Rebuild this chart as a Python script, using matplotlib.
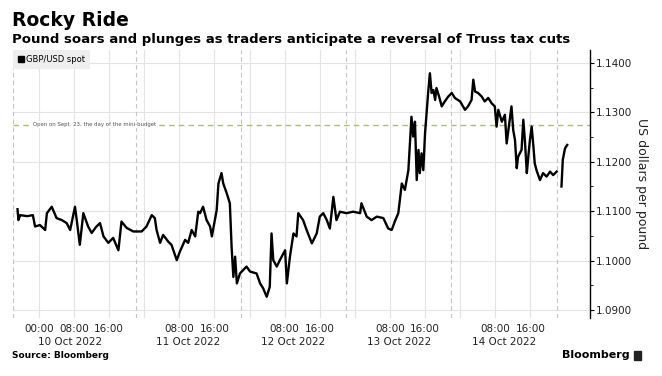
import numpy as np
import matplotlib.pyplot as plt
from matplotlib.lines import Line2D
from matplotlib.patches import Rectangle

# hours since 10 Oct 2022 00:00, GBP/USD spot
hours = [-4.9, -4.7, -4.3, -2.7, -1.4, -0.9, 0.2, 1.4, 1.8, 2.9, 4.0, 5.2, 6.3, 7.1,
         8.2, 8.6, 9.3, 10.1, 11.2, 12.0, 13.0, 13.9, 14.7, 15.8, 16.9, 18.1, 18.8,
         20.0, 21.5, 23.4, 24.5, 25.7, 26.4, 26.8, 27.6, 28.3, 29.5, 30.2, 31.4,
         32.1, 33.3, 34.0, 34.8, 35.6, 36.3, 36.7, 37.4, 38.2, 39.0, 39.4, 40.5,
         40.9, 41.6, 42.0, 42.8, 43.5, 43.9, 44.3, 44.7, 45.1, 45.8, 47.3, 48.1,
         49.6, 50.4, 51.1, 51.9, 52.6, 53.0, 53.4, 54.2, 54.9, 56.1, 56.5, 57.2,
         58.0, 58.7, 59.1, 60.2, 61.0, 62.2, 63.3, 64.0, 64.8, 65.6, 66.3, 67.1,
         67.8, 68.6, 70.1, 71.6, 73.2, 73.5, 74.7, 75.8, 77.0, 78.5, 79.6, 80.4,
         81.1, 81.9, 82.7, 83.4, 84.2, 84.9, 85.3, 85.7, 86.1, 86.5, 86.8, 87.2,
         87.6, 88.0, 88.4, 88.7, 89.1, 89.5, 89.9, 90.3, 90.6, 91.2, 91.8, 92.5,
         93.3, 94.1, 94.8, 96.0, 97.1, 97.8, 98.6, 99.0, 99.4, 100.1, 100.9, 101.6,
         102.4, 103.2, 103.9, 104.3, 104.7, 105.5, 106.2, 106.6, 107.3, 107.7,
         108.1, 108.5, 108.9, 109.2, 110.0, 110.4, 110.8, 111.2, 111.5, 111.9,
         112.3, 112.7, 113.0, 113.4, 114.2, 114.9, 115.7, 116.5, 117.2, 118.0,
         118.5, 119.1, 119.4, 119.9, 120.4]
gbpusd = [1.1104, 1.1082, 1.1092, 1.1090, 1.1092, 1.1069, 1.1072, 1.1062, 1.1096,
          1.1109, 1.1086, 1.1082, 1.1076, 1.1062, 1.1109, 1.1082, 1.1032, 1.1096,
          1.1069, 1.1056, 1.1068, 1.1076, 1.1049, 1.1036, 1.1046, 1.1021, 1.1079,
          1.1066, 1.1059, 1.1059, 1.1069, 1.1092, 1.1086, 1.1062, 1.1036, 1.1052,
          1.1038, 1.1032, 1.1001, 1.1018, 1.1042, 1.1036, 1.1062, 1.1049, 1.1099,
          1.1096, 1.1109, 1.1082, 1.1069, 1.1049, 1.1102, 1.1156, 1.1177, 1.1156,
          1.1136, 1.1116, 1.1028, 1.0967, 1.1008, 1.0954, 1.0974, 1.0988, 1.0978,
          1.0974, 1.0954, 1.0944, 1.0927, 1.0947, 1.1055, 1.1001, 1.0988, 1.1001,
          1.1021, 1.0954, 1.1008, 1.1055, 1.1049, 1.1096, 1.1082, 1.1062, 1.1035,
          1.1055, 1.1089, 1.1096, 1.1082, 1.1065, 1.1129, 1.1082, 1.1099, 1.1096,
          1.1099, 1.1096, 1.1116, 1.1089, 1.1082, 1.1089, 1.1086, 1.1065, 1.1062,
          1.1079, 1.1096, 1.1156, 1.1143, 1.1183, 1.1291, 1.1251, 1.1281, 1.1163,
          1.1224, 1.1177, 1.1217, 1.1183, 1.1258, 1.1305, 1.1339, 1.1379, 1.1339,
          1.1345, 1.1325, 1.1349, 1.1332, 1.1312, 1.1322, 1.1332, 1.1339, 1.1329,
          1.1322, 1.1305, 1.1312, 1.1325, 1.1366, 1.1342, 1.1339, 1.1332, 1.1322,
          1.1329, 1.1318, 1.1312, 1.1271, 1.1305, 1.1281, 1.1295, 1.1237, 1.1285,
          1.1312, 1.1264, 1.1244, 1.1187, 1.1210, 1.1224, 1.1285, 1.1237, 1.1177,
          1.1207, 1.1244, 1.1271, 1.1231, 1.1197, 1.1183, 1.1163, 1.1177, 1.1170,
          1.1180, 1.1173, 1.1180, np.nan, 1.1150, 1.1204, 1.1227, 1.1234]

mini_budget_open = 1.1275
days = ['10 Oct 2022', '11 Oct 2022', '12 Oct 2022', '13 Oct 2022', '14 Oct 2022']
y_ticks = [1.09, 1.10, 1.11, 1.12, 1.13, 1.14]

plt.rcParams['font.family'] = 'DejaVu Sans'

fig = plt.figure(figsize=(6.62, 3.76), dpi=100)
ax = fig.add_axes([13 / 662, 1 - 318 / 376, 577 / 662, 268 / 376])
ax.set_xlim(-5.93, 125.6)
ax.set_ylim(1.0884, 1.1426)

grid_c = '#e3e3e3'
for v in y_ticks:
    ax.axhline(v, color=grid_c, lw=0.8, zorder=0)
for h in range(0, 120, 8):
    ax.axvline(h, color=grid_c, lw=0.8, zorder=0)
# session breaks
for d in range(0, 5):
    ax.axvline(d * 24 + 22, color='#c4c4c4', lw=0.8, ls=(0, (4, 3)), zorder=0)
ax.axvline(-5.93, color='#c4c4c4', lw=0.8, ls=(0, (4, 3)), zorder=0)

ax.axhline(mini_budget_open, color='#a6cc3a', lw=1.0, ls=(0, (4, 3)), zorder=1)
ax.text(-1.4, mini_budget_open, 'Open on Sept. 23, the day of the mini-budget',
        fontsize=3.9, color='#555555', va='center', ha='left',
        bbox=dict(facecolor='white', edgecolor='none', pad=0.6), zorder=2)

ax.plot(hours, gbpusd, color='black', lw=1.7, zorder=3)

# axes styling
for s in ['left', 'top', 'bottom']:
    ax.spines[s].set_visible(False)
ax.spines['right'].set_linewidth(1.0)
ax.yaxis.tick_right()
ax.set_yticks(y_ticks)
ax.set_yticklabels([f'{v:.4f}' for v in y_ticks])
ax.set_yticks(np.arange(1.095, 1.14, 0.01), minor=True)
ax.tick_params(axis='y', which='major', length=3, width=0.8, labelsize=7.5,
               labelcolor='#222222', pad=1.5)
ax.tick_params(axis='y', which='minor', length=2, width=0.6)
ax.yaxis.set_label_position('right')
ax.set_ylabel('US dollars per pound', rotation=270, fontsize=9, color='#222222',
              labelpad=11)

xt, xl = [], []
for i in range(len(days)):
    hrs = [0, 8, 16] if i == 0 else [8, 16]
    for h in hrs:
        xt.append(i * 24 + h)
        xl.append(f'{h:02d}:00')
ax.set_xticks(xt)
ax.set_xticklabels(xl)
ax.tick_params(axis='x', length=0, labelsize=7.5, labelcolor='#222222', pad=4)
for i, lab in enumerate(days):
    x = 7 if i == 0 else i * 24 + 10
    ax.text(x, -0.088, lab, transform=ax.get_xaxis_transform(), ha='center',
            va='center', fontsize=7.5, color='#222222')

handle = Line2D([], [], marker='s', color='black', ls='none', markersize=5)
leg = ax.legend([handle], ['GBP/USD spot'], loc='upper left', fontsize=6,
                frameon=True, facecolor='#eeeeee', edgecolor='none', framealpha=1,
                borderaxespad=0, handletextpad=0.2, handlelength=0.8,
                borderpad=0.6, fancybox=False)

fig.text(12 / 662, 1 - 20 / 376, 'Rocky Ride', fontsize=13.5, fontweight='bold',
         va='center', ha='left')
fig.text(12 / 662, 1 - 39 / 376,
         'Pound soars and plunges as traders anticipate a reversal of Truss tax cuts',
         fontsize=9.5, fontweight='bold', va='center', ha='left')
fig.text(12 / 662, 1 - 356 / 376, 'Source: Bloomberg', fontsize=6.5,
         fontweight='bold', va='center', ha='left')
fig.text(630 / 662, 1 - 355 / 376, 'Bloomberg', fontsize=8, fontweight='bold',
         va='center', ha='right')
fig.patches.append(Rectangle((634 / 662, 1 - 360 / 376), 7 / 662, 9 / 376,
                             transform=fig.transFigure, color='#222222'))

fig.savefig('out.png', dpi=100)
